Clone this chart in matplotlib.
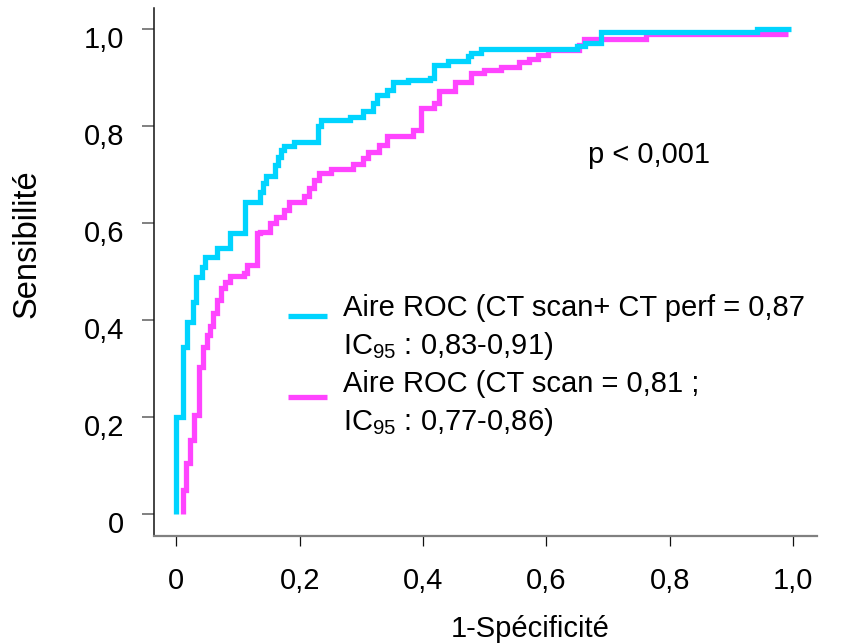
import matplotlib
matplotlib.use("Agg")
import matplotlib.pyplot as plt
from matplotlib.lines import Line2D
from matplotlib.transforms import ScaledTranslation

plt.rcParams['font.family'] = ['Liberation Sans', 'DejaVu Sans']
plt.rcParams['mathtext.default'] = 'regular'

# ROC curve step vertices (1-specificity, sensitivity): each point = position of a vertical jump, level after it
ct_perf_fpr = [0.0, 0.0, 0.011, 0.017, 0.027, 0.032, 0.042, 0.047, 0.066, 0.087, 0.111,
               0.135, 0.140, 0.145, 0.160, 0.165, 0.169, 0.175, 0.190, 0.229, 0.234,
               0.282, 0.302, 0.319, 0.326, 0.342, 0.352, 0.376, 0.411, 0.418, 0.440,
               0.473, 0.478, 0.494, 0.649, 0.662, 0.688, 0.941, 0.996]
ct_perf_tpr = [0.0, 0.201, 0.345, 0.396, 0.437, 0.489, 0.510, 0.530, 0.549, 0.580, 0.643,
               0.665, 0.682, 0.696, 0.720, 0.737, 0.751, 0.759, 0.766, 0.799, 0.812,
               0.819, 0.830, 0.847, 0.864, 0.874, 0.891, 0.895, 0.898, 0.926, 0.933,
               0.944, 0.951, 0.958, 0.964, 0.971, 0.993, 1.000, 1.000]

ct_fpr = [0.0104, 0.0104, 0.015, 0.022, 0.029, 0.036, 0.044, 0.049, 0.055, 0.060, 0.066,
          0.072, 0.079, 0.087, 0.109, 0.115, 0.131, 0.135, 0.152, 0.162, 0.175, 0.183,
          0.207, 0.215, 0.223, 0.231, 0.250, 0.286, 0.302, 0.311, 0.329, 0.342, 0.384,
          0.396, 0.418, 0.426, 0.452, 0.478, 0.499, 0.526, 0.556, 0.572, 0.586, 0.602,
          0.652, 0.661, 0.761, 0.991]
ct_tpr = [0.0, 0.050, 0.105, 0.153, 0.205, 0.303, 0.344, 0.369, 0.387, 0.414, 0.442,
          0.466, 0.479, 0.490, 0.497, 0.514, 0.579, 0.582, 0.601, 0.613, 0.627, 0.644,
          0.656, 0.672, 0.689, 0.703, 0.711, 0.721, 0.734, 0.747, 0.761, 0.780, 0.792,
          0.837, 0.847, 0.871, 0.891, 0.909, 0.916, 0.922, 0.931, 0.938, 0.946, 0.957,
          0.967, 0.979, 0.989, 0.989]

tick_vals = [0, 0.2, 0.4, 0.6, 0.8, 1.0]
tick_labels = ['0', '0,2', '0,4', '0,6', '0,8', '1,0']

label_perf = ['Aire ROC (CT scan+ CT perf = 0,87', 'IC$_{95}$ : 0,83-0,91)']
label_ct = ['Aire ROC (CT scan = 0,81 ;', 'IC$_{95}$ : 0,77-0,86)']

cyan = '#00D4FF'
magenta = '#FF44FF'
FS = 21

W, H = 864, 643
fig = plt.figure(figsize=(W / 100, H / 100), dpi=100)
ax = fig.add_axes([154.3 / W, 1 - 535.7 / H, (816.7 - 154.3) / W, (535.7 - 8) / H])

def steps(fpr, tpr):
    xs, ys = [fpr[0]], [tpr[0]]
    for i in range(1, len(fpr)):
        xs.append(fpr[i]); ys.append(tpr[i - 1])
        xs.append(fpr[i]); ys.append(tpr[i])
    return xs, ys

x2, y2 = steps(ct_fpr, ct_tpr)
ax.plot(x2, y2, color=magenta, lw=3.8, solid_capstyle='butt', solid_joinstyle='miter')
x1, y1 = steps(ct_perf_fpr, ct_perf_tpr)
ax.plot(x1, y1, color=cyan, lw=3.8, solid_capstyle='butt', solid_joinstyle='miter')

ax.set_xlim(-0.0357, 1.038)
ax.set_ylim(-0.044, 1.043)
ax.set_xticks(tick_vals)
ax.set_xticklabels(tick_labels, fontsize=FS)
ax.set_yticks(tick_vals)
ax.set_yticklabels(tick_labels, fontsize=FS)

for s in ['top', 'right']:
    ax.spines[s].set_visible(False)
ax.spines['left'].set_color('#111111')
ax.spines['left'].set_linewidth(1.1)
ax.spines['bottom'].set_color('#808080')
ax.spines['bottom'].set_linewidth(1.6)
ax.tick_params(axis='y', length=8.6, width=1.4, color='#808080', pad=13)
ax.tick_params(axis='x', length=7.5, width=0.9, color='#111111', pad=15)
for lab in ax.get_yticklabels():
    lab.set_transform(lab.get_transform() + ScaledTranslation(0, -0.08, fig.dpi_scale_trans))

ax.set_xlabel('1-Spécificité', fontsize=FS)
ax.xaxis.set_label_coords(0.567, -0.151)
ax.set_ylabel('Sensibilité', fontsize=23.5)
ax.yaxis.set_label_coords(-0.168, 0.553)

fig.text(588 / W, 1 - 163 / H, 'p < 0,001', fontsize=FS, va='baseline', ha='left')

# legend
for (lines, col, hy, base) in [(label_perf, cyan, 315.5, 316), (label_ct, magenta, 397, 392)]:
    fig.add_artist(Line2D([288 / W, 327 / W], [1 - hy / H, 1 - hy / H], color=col, lw=3.8,
                          solid_capstyle='butt'))
    for k, t in enumerate(lines):
        fig.text(343 / W, 1 - (base + 38 * k) / H, t, fontsize=FS, va='baseline', ha='left')

fig.savefig('out.png', dpi=100)
